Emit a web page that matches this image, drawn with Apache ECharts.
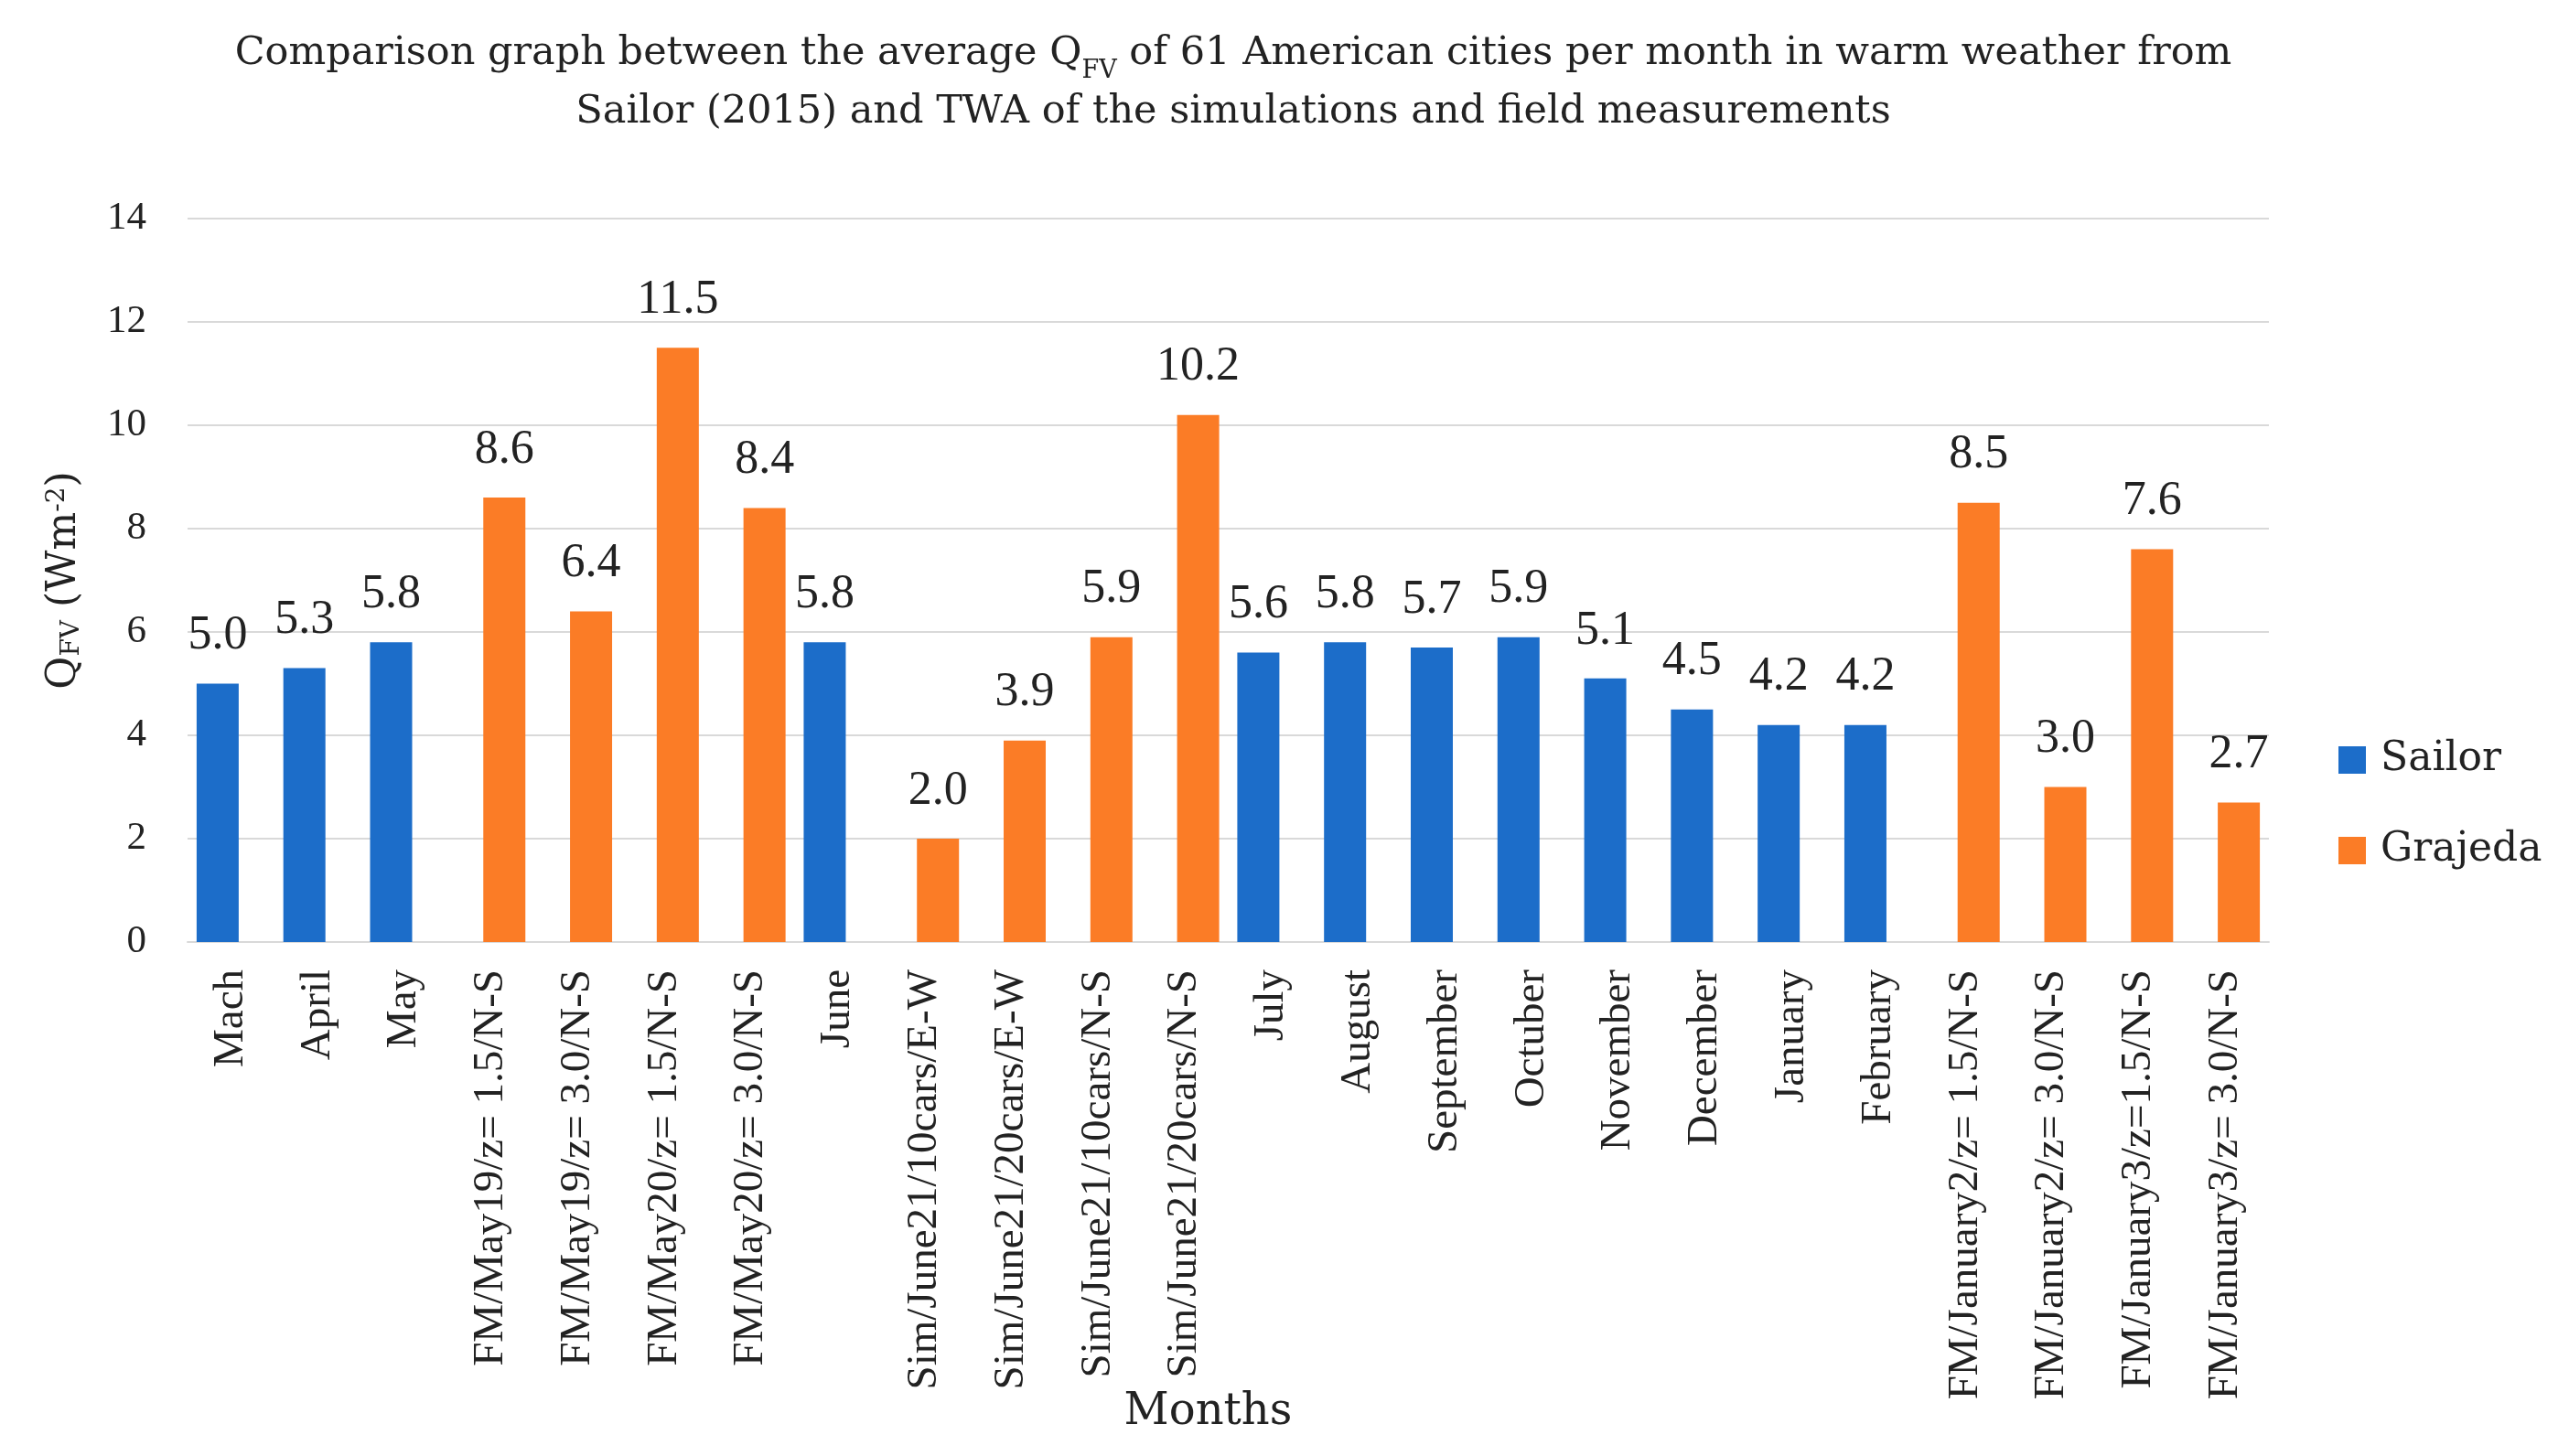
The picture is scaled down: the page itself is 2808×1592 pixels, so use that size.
<!DOCTYPE html>
<html>
<head>
<meta charset="utf-8">
<script src="https://cdn.jsdelivr.net/npm/echarts@6/dist/echarts.min.js"></script>
<style>
html,body{margin:0;padding:0;background:#fff;}
#chart{width:2808px;height:1592px;}
</style>
</head>
<body>
<div id="chart"></div>
<script>
var categories = ['Mach','April','May','FM/May19/z= 1.5/N-S','FM/May19/z= 3.0/N-S','FM/May20/z= 1.5/N-S','FM/May20/z= 3.0/N-S','June','Sim/June21/10cars/E-W','Sim/June21/20cars/E-W','Sim/June21/10cars/N-S','Sim/June21/20cars/N-S','July','August','September','Octuber','November','December','January','February','FM/January2/z= 1.5/N-S','FM/January2/z= 3.0/N-S','FM/January3/z=1.5/N-S','FM/January3/z= 3.0/N-S'];
var sailor = [5.0,5.3,5.8,null,null,null,null,5.8,null,null,null,null,5.6,5.8,5.7,5.9,5.1,4.5,4.2,4.2,null,null,null,null];
var grajeda = [null,null,null,8.6,6.4,11.5,8.4,null,2.0,3.9,5.9,10.2,null,null,null,null,null,null,null,null,8.5,3.0,7.6,2.7];
var yTicks = {min:0, max:14, interval:2};
var seriesNames = ['Sailor','Grajeda'];

var serifLetters = 'DejaVu Serif';
var serifNum = 'Liberation Serif';
var chart = echarts.init(document.getElementById('chart'));
var labelCfg = {show:true, position:'top', distance:26, fontFamily:serifNum, fontSize:52, color:'#222',
  formatter:function(p){return p.value==null?'':Number(p.value).toFixed(1);}};
chart.setOption({
  backgroundColor:'#fff',
  animation:false,
  title:{
    text:'Comparison graph between the average Q{sub|FV} of 61 American cities per month in warm weather from\nSailor (2015) and TWA of the simulations and field measurements',
    left:1343, top:22, textAlign:'center',
    textStyle:{fontFamily:serifLetters, fontSize:43, fontWeight:'normal', color:'#222', lineHeight:64,
      rich:{sub:{fontFamily:serifLetters, fontSize:27, color:'#222', verticalAlign:'bottom', lineHeight:46}}}
  },
  legend:{
    orient:'vertical', left:2551, top:801,
    itemWidth:30, itemHeight:30, itemGap:49, icon:'rect',
    data:seriesNames,
    textStyle:{fontFamily:serifLetters, fontSize:44, color:'#222', lineHeight:50, padding:[0,0,0,11]}
  },
  grid:{left:205, right:328, top:239, bottom:562, containLabel:false},
  xAxis:{
    type:'category', data:categories,
    name:'Months', nameLocation:'middle', nameGap:491, nameMoveOverlap:false,
    nameTextStyle:{fontFamily:serifLetters, fontSize:48, color:'#222', padding:[0,44,0,0]},
    axisLine:{lineStyle:{color:'#d9d9d9', width:2}},
    axisTick:{show:false},
    axisLabel:{rotate:90, interval:0, margin:30, fontFamily:serifNum, fontSize:47, color:'#222'}
  },
  yAxis:{
    type:'value', min:yTicks.min, max:yTicks.max, interval:yTicks.interval,
    name:'Q{sub|FV} (Wm{sup|-2})', nameLocation:'middle', nameRotate:90, nameGap:112, nameMoveOverlap:false,
    nameTextStyle:{fontFamily:serifLetters, fontSize:44, color:'#222',
      rich:{sub:{fontFamily:serifLetters, fontSize:28, color:'#222', verticalAlign:'bottom'},
            sup:{fontFamily:serifLetters, fontSize:28, color:'#222', verticalAlign:'top'}}},
    axisLine:{show:false}, axisTick:{show:false},
    splitLine:{lineStyle:{color:'#d9d9d9', width:2}},
    axisLabel:{margin:45, fontFamily:serifNum, fontSize:43, color:'#222'}
  },
  series:[
    {name:seriesNames[0], type:'bar', data:sailor, barWidth:46, barGap:'-37%', itemStyle:{color:'#1c6dc9'}, label:labelCfg},
    {name:seriesNames[1], type:'bar', data:grajeda, barWidth:46, barGap:'-37%', itemStyle:{color:'#fb7c26'}, label:labelCfg}
  ]
});
</script>
</body>
</html>
